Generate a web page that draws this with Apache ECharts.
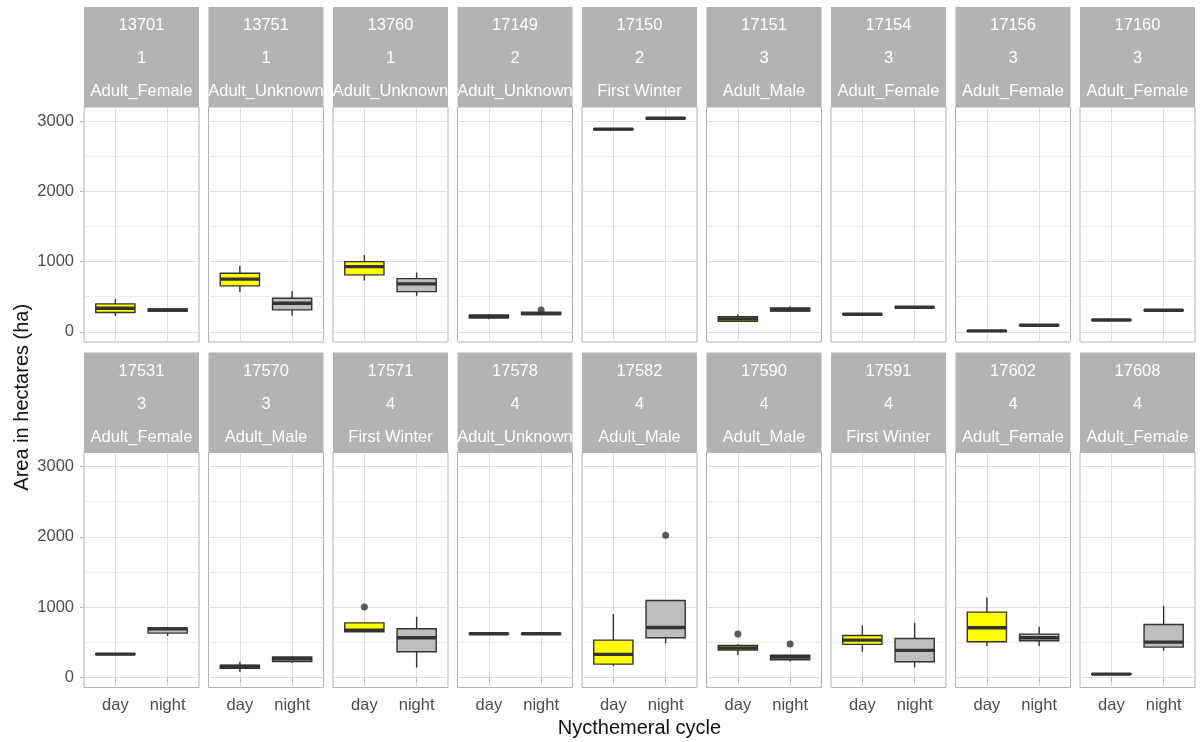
<!DOCTYPE html>
<html>
<head>
<meta charset="utf-8">
<title>Area in hectares by nycthemeral cycle</title>
<script src="https://cdn.jsdelivr.net/npm/echarts@6/dist/echarts.min.js"></script>
<style>
  html, body { margin: 0; padding: 0; background: #ffffff; }
  #chart { width: 1200px; height: 742px; }
</style>
</head>
<body>
<div id="chart"></div>
<script>
// ---- data -------------------------------------------------------------
const birdIds = ['13701', '13751', '13760', '17149', '17150', '17151', '17154', '17156', '17160',
                 '17531', '17570', '17571', '17578', '17582', '17590', '17591', '17602', '17608'];
const birdGroups = ['1', '1', '1', '2', '2', '3', '3', '3', '3',
                    '3', '3', '4', '4', '4', '4', '4', '4', '4'];
const birdClasses = ['Adult_Female', 'Adult_Unknown', 'Adult_Unknown', 'Adult_Unknown', 'First Winter',
                     'Adult_Male', 'Adult_Female', 'Adult_Female', 'Adult_Female',
                     'Adult_Female', 'Adult_Male', 'First Winter', 'Adult_Unknown', 'Adult_Male',
                     'Adult_Male', 'First Winter', 'Adult_Female', 'Adult_Female'];
const cycles = ['day', 'night'];

// box statistics per bird: [lower whisker, Q1, median, Q3, upper whisker]
const dayStats = [
  [228, 275, 337, 398, 465],
  [569, 654, 750, 835, 939],
  [730, 811, 929, 1000, 1095],
  [180, 200, 215, 240, 250],
  [2870, 2876, 2885, 2892, 2897],
  [140, 152, 185, 215, 250],
  [240, 245, 250, 255, 260],
  [8, 10, 14, 18, 20],
  [162, 165, 170, 175, 178],
  [320, 325, 331, 338, 345],
  [80, 128, 155, 175, 222],
  [645, 650, 672, 776, 776],
  [612, 615, 620, 624, 628],
  [161, 189, 327, 530, 900],
  [317, 390, 420, 455, 470],
  [365, 469, 530, 597, 739],
  [445, 507, 706, 928, 1136],
  [40, 43, 47, 51, 55]
];
const nightStats = [
  [285, 295, 310, 325, 335],
  [228, 313, 408, 479, 583],
  [512, 573, 683, 758, 844],
  [235, 245, 260, 280, 290],
  [3030, 3035, 3040, 3045, 3048],
  [285, 295, 315, 340, 365],
  [340, 345, 350, 355, 360],
  [88, 90, 95, 100, 103],
  [300, 303, 308, 313, 316],
  [590, 630, 690, 705, 712],
  [205, 225, 265, 290, 295],
  [142, 365, 563, 691, 862],
  [612, 615, 620, 624, 628],
  [483, 563, 710, 1094, 1094],
  [227, 250, 290, 315, 320],
  [142, 223, 384, 554, 777],
  [445, 521, 563, 616, 720],
  [379, 431, 502, 753, 1018]
];

// single points beyond the whiskers
const outlierBird = ['17149', '17571', '17582', '17590', '17590'];
const outlierCycle = ['night', 'day', 'night', 'day', 'night'];
const outlierArea = [310, 1000, 2022, 616, 474];

const yTicks = [0, 1000, 2000, 3000];

// ---- style and layout -------------------------------------------------
const FONT = "'Liberation Sans', Arial, sans-serif";
const CYCLE_FILL = ['#FFFF00', '#BEBEBE'];
const OUTLINE = '#333333';
const GRID_LINE = '#DEDEDE';
const FRAME = '#B3B3B3';
const AXIS_TEXT = '#4D4D4D';

const COLS = 9;
const PANEL_X0 = 84, PANEL_STEP = 124.5, PANEL_W = 115;
const PLOT_TOPS = [107, 452.5], PLOT_H = 235, STRIP_H = 100;
const DISCRETE_PAD = 0.6;   // padding on each side of a discrete axis, in category units

// shared y range: data range plus 5% on each side
const allValues = dayStats.flat().concat(nightStats.flat(), outlierArea);
const dataLo = Math.min(...allValues), dataHi = Math.max(...allValues);
const yPad = (dataHi - dataLo) * 0.05;
const yMin = dataLo - yPad, yMax = dataHi + yPad;

function renderBox(params, api) {
  const xi = api.value(0);
  const pLo = api.coord([xi, api.value(1)]);
  const pQ1 = api.coord([xi, api.value(2)]);
  const pMed = api.coord([xi, api.value(3)]);
  const pQ3 = api.coord([xi, api.value(4)]);
  const pHi = api.coord([xi, api.value(5)]);
  const step = api.coord([1, 0])[0] - api.coord([0, 0])[0];
  const half = step * 0.375;
  const x = pLo[0];
  const line = { stroke: OUTLINE, lineWidth: 1.4 };
  return {
    type: 'group',
    children: [
      { type: 'line', shape: { x1: x, y1: pHi[1], x2: x, y2: pQ3[1] }, style: line },
      { type: 'line', shape: { x1: x, y1: pQ1[1], x2: x, y2: pLo[1] }, style: line },
      { type: 'rect',
        shape: { x: x - half, y: pQ3[1], width: 2 * half, height: Math.max(pQ1[1] - pQ3[1], 0.5) },
        style: { fill: CYCLE_FILL[xi], stroke: OUTLINE, lineWidth: 1.4 } },
      { type: 'line', shape: { x1: x - half, y1: pMed[1], x2: x + half, y2: pMed[1] },
        style: { stroke: OUTLINE, lineWidth: 3.4 } }
    ]
  };
}

const grids = [], xAxes = [], yAxes = [], series = [], graphics = [];

birdIds.forEach((id, i) => {
  const row = Math.floor(i / COLS), col = i % COLS;
  const left = PANEL_X0 + col * PANEL_STEP;
  const top = PLOT_TOPS[row];
  const isLeft = col === 0, isBottom = row === 1;

  // panel frame with the horizontal grid and the y axis
  grids.push({ left, top, width: PANEL_W, height: PLOT_H, show: true,
    backgroundColor: '#ffffff', borderColor: FRAME, borderWidth: 1,
    containLabel: false, outerBoundsMode: 'none' });
  const fg = grids.length - 1;
  xAxes.push({ gridIndex: fg, type: 'value', min: 0, max: 1, show: false });
  yAxes.push({
    gridIndex: fg, type: 'value', min: yMin, max: yMax, splitNumber: 3,
    axisLine: { show: false },
    axisTick: { show: isLeft, customValues: yTicks, length: 4, lineStyle: { color: FRAME, width: 1 } },
    axisLabel: { show: isLeft, customValues: yTicks, margin: 10, color: AXIS_TEXT,
      fontSize: 16.5, fontFamily: FONT, formatter: (v) => String(v) },
    splitLine: { show: true, lineStyle: { color: GRID_LINE, width: 1 } },
    minorTick: { show: false, splitNumber: 2 },
    minorSplitLine: { show: true, lineStyle: { color: '#E6E6E6', width: 0.8 } }
  });

  // inner plotting grid holding the two discrete positions
  const innerW = PANEL_W / (1 + 2 * DISCRETE_PAD);
  grids.push({ left: left + innerW * DISCRETE_PAD, top, width: innerW, height: PLOT_H,
    show: false, containLabel: false, outerBoundsMode: 'none' });
  const ig = grids.length - 1;
  xAxes.push({
    gridIndex: ig, type: 'category', data: cycles, boundaryGap: false,
    axisLine: { show: false },
    axisTick: { show: isBottom, length: 5, lineStyle: { color: FRAME, width: 1 } },
    axisLabel: { show: isBottom, interval: 0, margin: 9, color: AXIS_TEXT,
      fontSize: 16.5, fontFamily: FONT },
    splitLine: { show: true, lineStyle: { color: GRID_LINE, width: 1 } }
  });
  yAxes.push({ gridIndex: ig, type: 'value', min: yMin, max: yMax, show: false });

  series.push({
    type: 'custom', xAxisIndex: ig, yAxisIndex: ig, z: 3,
    renderItem: renderBox,
    encode: { x: 0, y: [1, 2, 3, 4, 5] },
    data: [[0].concat(dayStats[i]), [1].concat(nightStats[i])]
  });

  const pts = [];
  outlierBird.forEach((b, k) => {
    if (b === id) pts.push([cycles.indexOf(outlierCycle[k]), outlierArea[k]]);
  });
  if (pts.length) {
    series.push({ type: 'scatter', xAxisIndex: ig, yAxisIndex: ig, z: 4,
      symbolSize: 7, itemStyle: { color: OUTLINE }, data: pts });
  }

  // strip header
  graphics.push({ type: 'rect', shape: { x: left, y: top - STRIP_H, width: PANEL_W, height: STRIP_H },
    style: { fill: FRAME }, z: 1 });
  graphics.push({ type: 'text', x: left + PANEL_W / 2, y: top - STRIP_H + 51.5, z: 2,
    style: { text: id + '\n' + birdGroups[i] + '\n' + birdClasses[i], fill: '#ffffff',
      fontSize: 16.5, fontFamily: FONT, align: 'center', verticalAlign: 'middle', lineHeight: 33 } });
});

// axis titles
graphics.push({ type: 'text', x: PANEL_X0 + ((COLS - 1) * PANEL_STEP + PANEL_W) / 2, y: 728,
  style: { text: 'Nycthemeral cycle', fill: '#111111', fontSize: 20, fontFamily: FONT,
    align: 'center', verticalAlign: 'middle' } });
graphics.push({ type: 'text', x: 22, y: (PLOT_TOPS[0] + PLOT_TOPS[1] + PLOT_H) / 2, rotation: Math.PI / 2,
  style: { text: 'Area in hectares (ha)', fill: '#111111', fontSize: 20, fontFamily: FONT,
    align: 'center', verticalAlign: 'middle' } });

const chart = echarts.init(document.getElementById('chart'), null, { renderer: 'canvas' });
chart.setOption({
  animation: false,
  backgroundColor: '#ffffff',
  grid: grids,
  xAxis: xAxes,
  yAxis: yAxes,
  series: series,
  graphic: { elements: graphics }
});
</script>
</body>
</html>
